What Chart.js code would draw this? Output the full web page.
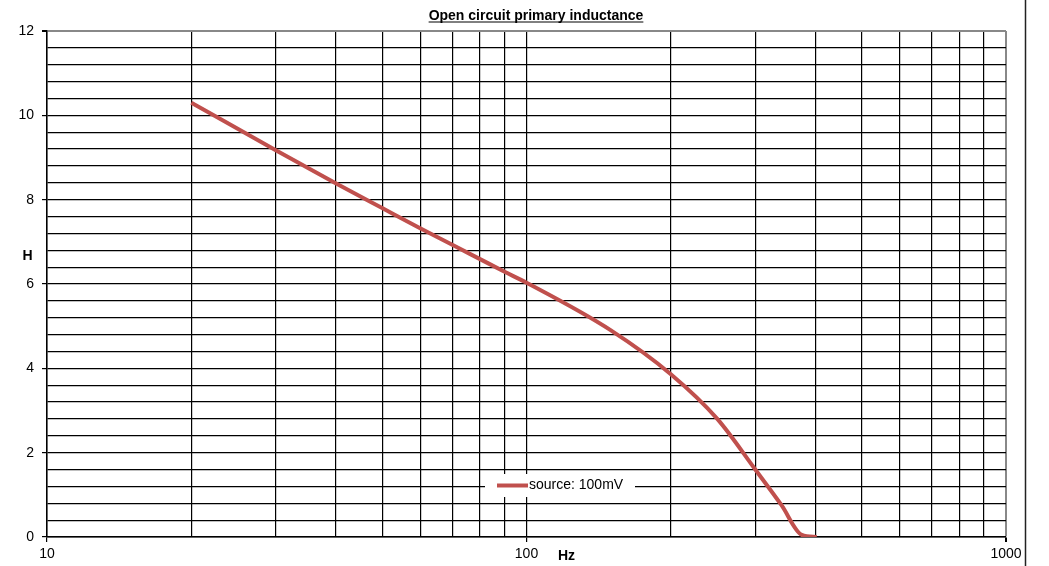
<!DOCTYPE html>
<html>
<head>
<meta charset="utf-8">
<script src="https://cdn.jsdelivr.net/npm/chart.js@4/dist/chart.umd.min.js"></script>
<style>
  html, body { margin: 0; padding: 0; background: #ffffff; }
  #wrap { width: 1049px; height: 566px; position: relative; }
</style>
</head>
<body>
<div id="wrap"><canvas id="c" width="1049" height="566"></canvas></div>
<script>
// ---- data ----
const chartTitle = "Open circuit primary inductance";
const xAxisTitle = "Hz";
const yAxisTitle = "H";
const seriesName = "source: 100mV";
const frequencies = [20, 30, 40, 50, 60, 70, 80, 90, 100, 150, 200, 250, 300, 340, 375, 403];
const inductance  = [10.3, 9.17, 8.39, 7.80, 7.32, 6.93, 6.59, 6.29, 6.03, 4.9, 3.86, 2.8, 1.6, 0.76, 0.05, 0];
const xGridValues = [10, 20, 30, 40, 50, 60, 70, 80, 90, 100, 200, 300, 400, 500, 600, 700, 800, 900, 1000];
const xTickLabels = [10, 100, 1000];
const yTickLabels = [0, 2, 4, 6, 8, 10, 12];
const yMinorStep = 0.4;

const FONT = "'Liberation Sans', Arial, sans-serif";
const RED = "rgb(192,80,77)";

function isYLabel(v) { return yTickLabels.some(t => Math.abs(t - v) < 1e-6); }
function isXLabel(v) { return xTickLabels.some(t => Math.abs(t - v) < 1e-6); }

const extras = {
  id: 'extras',
  afterDraw(chart) {
    const ctx = chart.ctx;
    ctx.save();
    // title (bold, underlined)
    ctx.font = "bold 14px " + FONT;
    ctx.fillStyle = "#000";
    ctx.textAlign = "center";
    ctx.textBaseline = "alphabetic";
    const tx = 536, ty = 19.5;
    ctx.fillText(chartTitle, tx, ty);
    const w = ctx.measureText(chartTitle).width;
    ctx.strokeStyle = "#000";
    ctx.lineWidth = 1;
    ctx.beginPath();
    ctx.moveTo(tx - w / 2, ty + 2.5);
    ctx.lineTo(tx + w / 2, ty + 2.5);
    ctx.stroke();
    // axis titles
    ctx.font = "bold 14px " + FONT;
    ctx.textBaseline = "middle";
    ctx.fillText(yAxisTitle, 27.5, 256);
    ctx.fillText(xAxisTitle, 566.5, 556.5);
    // legend inside plot
    ctx.fillStyle = "#ffffff";
    ctx.fillRect(485, 474, 150, 23);
    ctx.strokeStyle = RED;
    ctx.lineWidth = 4;
    ctx.lineCap = "butt";
    ctx.beginPath();
    ctx.moveTo(497, 485.5);
    ctx.lineTo(528, 485.5);
    ctx.stroke();
    ctx.fillStyle = "#000";
    ctx.font = "14px " + FONT;
    ctx.textAlign = "left";
    ctx.fillText(seriesName, 529, 485.5);
    // outer right frame line
    ctx.strokeStyle = "#222";
    ctx.lineWidth = 1.5;
    ctx.beginPath();
    ctx.moveTo(1025.5, 0);
    ctx.lineTo(1025.5, 566);
    ctx.stroke();
    ctx.restore();
  }
};

new Chart(document.getElementById('c'), {
  type: 'line',
  data: {
    datasets: [{
      label: seriesName,
      data: frequencies.map((f, i) => ({ x: f, y: inductance[i] })),
      borderColor: RED,
      backgroundColor: RED,
      borderWidth: 4,
      pointRadius: 0,
      cubicInterpolationMode: 'monotone',
      fill: false
    }]
  },
  options: {
    responsive: false,
    animation: false,
    events: [],
    layout: { padding: { top: 31, right: 43, left: 0, bottom: 0 } },
    plugins: {
      legend: { display: false },
      title: { display: false },
      tooltip: { enabled: false }
    },
    scales: {
      x: {
        type: 'logarithmic',
        min: 10,
        max: 1000,
        afterBuildTicks(scale) { scale.ticks = xGridValues.map(v => ({ value: v })); },
        afterFit(scale) { scale.height = 29; },
        border: { display: true, color: '#000', width: 1.5 },
        grid: {
          color: ctx => (ctx.tick && ctx.tick.value === 1000) ? '#888' : '#000',
          lineWidth: ctx => (ctx.tick && ctx.tick.value === 1000) ? 2 : 1.2,
          tickLength: 5,
          tickColor: ctx => (ctx.tick && isXLabel(ctx.tick.value)) ? '#000' : 'rgba(0,0,0,0)',
          drawTicks: true
        },
        ticks: {
          autoSkip: false,
          maxRotation: 0,
          padding: 4,
          color: '#000',
          font: { family: FONT, size: 14 },
          callback: v => isXLabel(v) ? String(v) : ''
        }
      },
      y: {
        type: 'linear',
        min: 0,
        max: 12,
        afterFit(scale) { scale.width = 47; },
        border: { display: true, color: '#000', width: 1.5 },
        grid: {
          color: ctx => (ctx.tick && Math.abs(ctx.tick.value - 12) < 1e-6) ? '#888' : '#000',
          lineWidth: ctx => (ctx.tick && Math.abs(ctx.tick.value - 12) < 1e-6) ? 2 : 1.2,
          tickLength: 5,
          tickColor: ctx => (ctx.tick && isYLabel(ctx.tick.value)) ? '#000' : 'rgba(0,0,0,0)'
        },
        ticks: {
          stepSize: yMinorStep,
          autoSkip: false,
          padding: 8,
          color: '#000',
          font: { family: FONT, size: 14 },
          callback: v => isYLabel(v) ? String(Math.round(v)) : ''
        }
      }
    }
  },
  plugins: [extras]
});
</script>
</body>
</html>
